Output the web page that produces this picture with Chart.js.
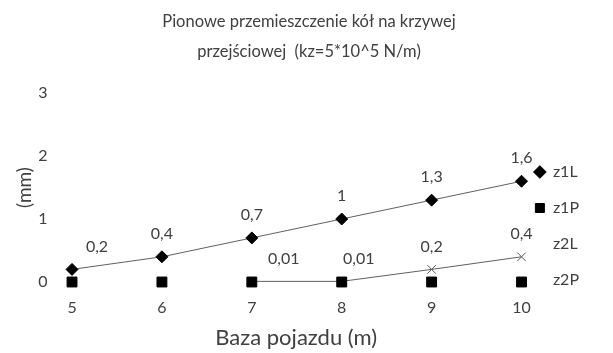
<!DOCTYPE html>
<html>
<head>
<meta charset="utf-8">
<script src="https://cdn.jsdelivr.net/npm/chart.js@4/dist/chart.umd.min.js"></script>
<style>
  html, body { margin: 0; padding: 0; background: #fff; }
  #wrap { width: 613px; height: 353px; }
</style>
</head>
<body>
<div id="wrap"><canvas id="chart"></canvas></div>
<script>
// data
const baza = [5, 6, 7, 8, 9, 10];
const z1L = [0.2, 0.4, 0.7, 1, 1.3, 1.6];
const z1P = [0, 0, 0, 0, 0, 0];
const z2L = [null, null, 0.01, 0.01, 0.2, 0.4];
const z2P = [0, 0, 0, 0, 0, 0];
const yTicks = [0, 1, 2, 3];

const textColor = '#404040';
const fontFamily = 'Lato, "Liberation Sans", sans-serif';

function points(values) {
    return baza.map((x, i) => ({ x: x, y: values[i] }));
}

// which series get value labels, and small horizontal nudges for crowded ones
const labelled = { z1L: { 0: 25 }, z2L: { 2: 32, 3: 17 } };

const valueLabels = {
    id: 'valueLabels',
    afterDatasetsDraw(chart) {
        const ctx = chart.ctx;
        ctx.save();
        ctx.font = '16px ' + fontFamily;
        ctx.fillStyle = textColor;
        ctx.textAlign = 'center';
        ctx.textBaseline = 'middle';
        chart.data.datasets.forEach((ds, di) => {
            const shift = labelled[ds.label];
            if (!shift) return;
            chart.getDatasetMeta(di).data.forEach((pt, i) => {
                const v = ds.data[i].y;
                if (v === null) return;
                const txt = String(v).replace('.', ',');
                ctx.fillText(txt, pt.x + (shift[i] || 0), pt.y - 23);
            });
        });
        ctx.restore();
    }
};

// legend sits partly over the plot's right margin in the original
const legendNudge = {
    id: 'legendNudge',
    afterLayout(chart) {
        const lg = chart.legend;
        lg.left -= 16; lg.right -= 16;
        lg.top += 26; lg.bottom += 26;
    }
};

const ctx = document.getElementById('chart').getContext('2d');
new Chart(ctx, {
    type: 'line',
    data: {
        datasets: [
            {
                label: 'z1L',
                data: points(z1L),
                clip: false,
                borderColor: '#606060',
                borderWidth: 1,
                pointStyle: 'rectRot',
                pointRadius: 6,
                pointBackgroundColor: '#000',
                pointBorderColor: '#000',
                pointBorderWidth: 1
            },
            {
                label: 'z1P',
                data: points(z1P),
                clip: false,
                showLine: false,
                pointStyle: 'rect',
                pointRadius: 7,
                pointBackgroundColor: '#000',
                pointBorderColor: '#000',
                pointBorderWidth: 1
            },
            {
                label: 'z2L',
                data: points(z2L),
                clip: false,
                borderColor: '#606060',
                borderWidth: 1,
                pointStyle: 'crossRot',
                pointRadius: 6,
                pointBorderColor: '#555',
                pointBorderWidth: 1
            },
            {
                label: 'z2P',
                data: points(z2P),
                clip: false,
                showLine: false,
                pointStyle: 'crossRot',
                pointRadius: 6,
                pointBorderColor: '#fff',
                pointBorderWidth: 1
            }
        ]
    },
    options: {
        responsive: true,
        maintainAspectRatio: false,
        animation: false,
        layout: { padding: { top: 0, right: 8, bottom: 0, left: 13 } },
        plugins: {
            title: {
                display: true,
                text: ['Pionowe przemieszczenie kół na krzywej', 'przejściowej  (kz=5*10^5 N/m)'],
                color: textColor,
                font: { family: fontFamily, size: 16.5, weight: 'normal', lineHeight: 1.82 },
                padding: { top: 7, bottom: 26 }
            },
            legend: {
                position: 'right',
                align: 'end',
                fullSize: false,
                labels: {
                    color: textColor,
                    font: { family: fontFamily, size: 16 },
                    usePointStyle: true,
                    boxWidth: 10,
                    boxHeight: 9,
                    padding: 20,
                    generateLabels(chart) {
                        const items = Chart.defaults.plugins.legend.labels.generateLabels(chart);
                        items.forEach(it => {
                            if (it.text === 'z2L' || it.text === 'z2P') {
                                it.strokeStyle = 'rgba(0,0,0,0)';
                                it.fillStyle = 'rgba(0,0,0,0)';
                            }
                        });
                        return items;
                    }
                }
            },
            tooltip: { enabled: false }
        },
        scales: {
            x: {
                type: 'linear',
                min: 4.883,
                max: 10.104,
                afterBuildTicks: axis => { axis.ticks = baza.map(v => ({ value: v })); },
                afterFit: axis => { axis.height = 71; },
                grid: { display: false, drawTicks: false },
                border: { display: false },
                ticks: { color: textColor, font: { family: fontFamily, size: 16 }, padding: 16 },
                title: {
                    display: true,
                    text: 'Baza pojazdu (m)',
                    color: textColor,
                    font: { family: fontFamily, size: 22 },
                    padding: { top: 0, bottom: 2 }
                }
            },
            y: {
                min: 0,
                max: 3,
                afterBuildTicks: axis => { axis.ticks = yTicks.map(v => ({ value: v })); },
                afterFit: axis => { axis.width = 48.5; },
                grid: { display: false, drawTicks: false },
                border: { display: false },
                ticks: { color: textColor, font: { family: fontFamily, size: 16 }, padding: 14 },
                title: {
                    display: true,
                    text: '(mm)',
                    color: textColor,
                    font: { family: fontFamily, size: 19 },
                    padding: { top: 0, bottom: 0 }
                }
            }
        }
    },
    plugins: [valueLabels, legendNudge]
});
</script>
</body>
</html>
